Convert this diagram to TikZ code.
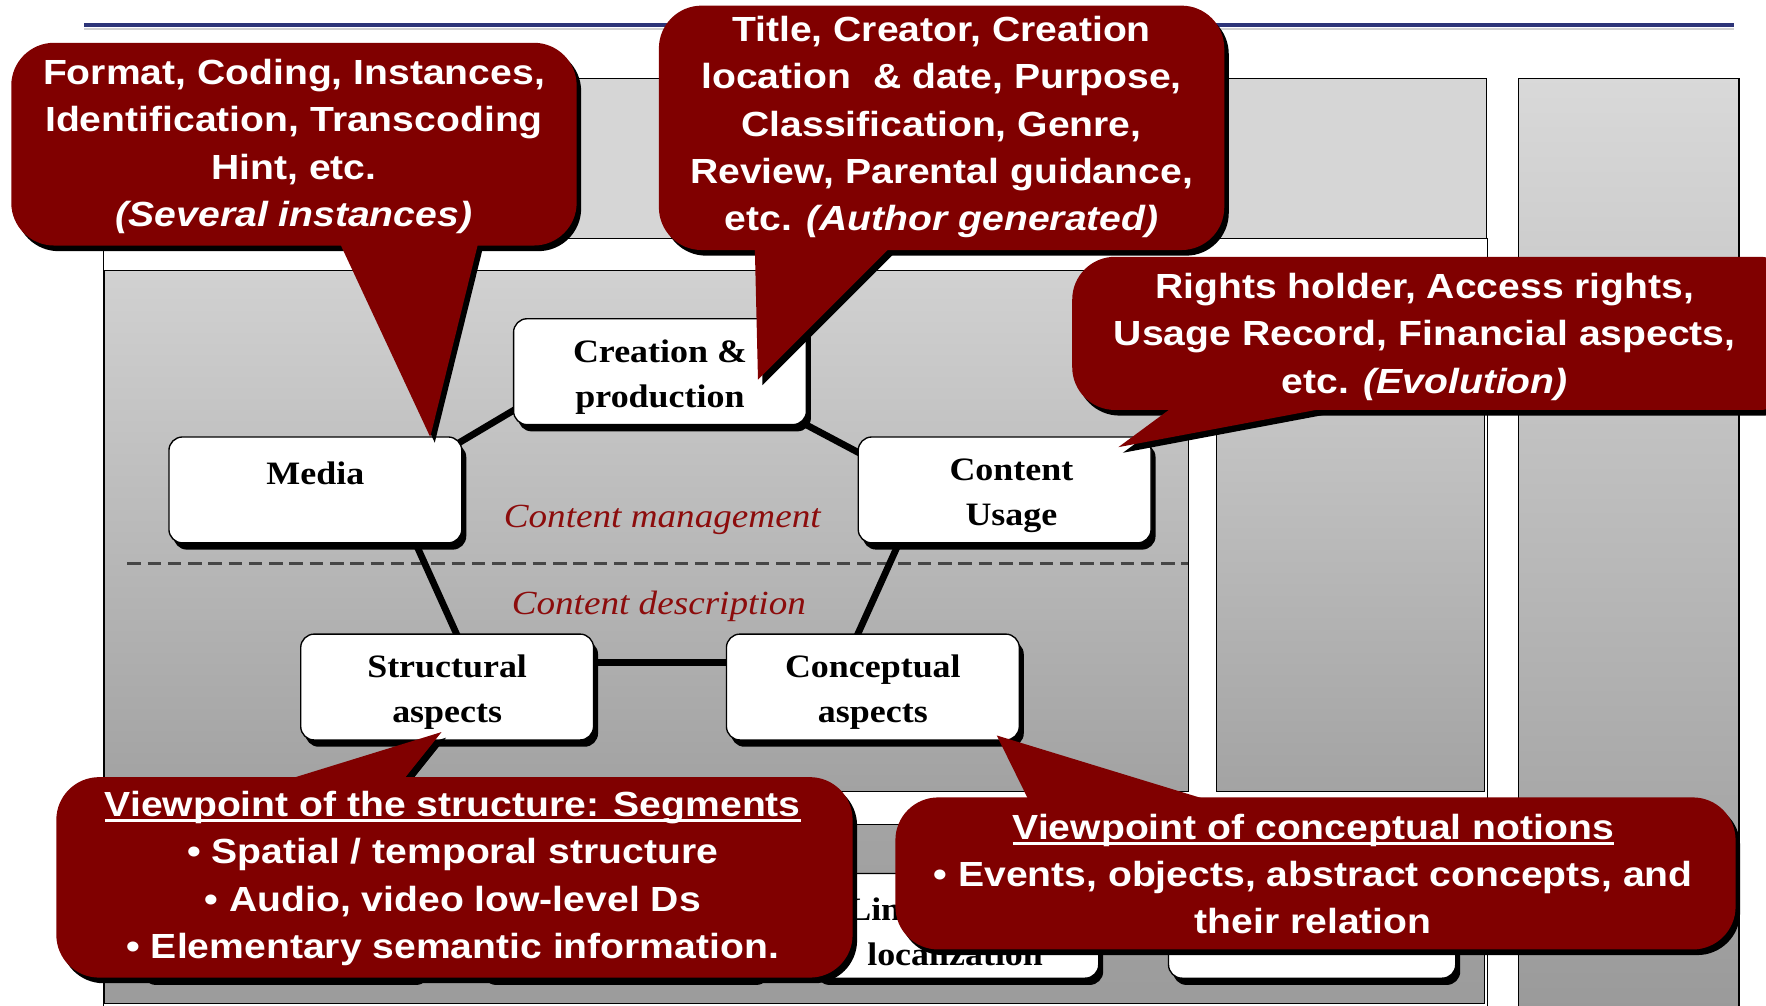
\documentclass[tikz,border=0pt]{standalone}
\usepackage{fontspec}
\usetikzlibrary{calc,shadows}
\newfontfamily\callfont[FakeStretch=1.12]{Liberation Sans}
\newfontfamily\serfont[FakeStretch=1.1]{Liberation Serif}
\definecolor{callred}{RGB}{128,0,0}
\definecolor{labred}{RGB}{140,12,12}
\definecolor{navyline}{RGB}{45,52,120}
\newcommand\myul[1]{\setbox0\hbox{#1}\rlap{\rule[-5pt]{\wd0}{2.5pt}}\box0}
\newcommand\topstrut{\rule{0pt}{30pt}}
\newcommand\callshape[5]{%
  \fill[rounded corners=38pt] (#1) rectangle (#2);
  \fill #3 -- #4 -- #5 -- cycle;}
\pgfdeclarelayer{back}\pgfdeclarelayer{links}\pgfdeclarelayer{front}
\pgfsetlayers{back,links,main,front}
\begin{document}
\begin{tikzpicture}[x=1pt,y=-1pt,
  panel/.style={draw=black,line width=1pt},
  box/.style={draw=black,line width=1.2pt,fill=white,rounded corners=12pt,
     minimum width=260pt,minimum height=94pt,inner sep=0pt,align=center,
     font=\serfont\bfseries\fontsize{29}{40}\selectfont,
     drop shadow={shadow xshift=4pt,shadow yshift=-6pt,fill=black,opacity=1}},
  lowbox/.style={box,minimum width=255pt,minimum height=93pt},
  conn/.style={line width=6pt,black},
  lab/.style={font=\serfont\itshape\fontsize{30}{36}\selectfont,text=labred},
  calltext/.style={text=white,align=center,inner sep=0pt,
     font=\callfont\bfseries\fontsize{31}{42}\selectfont}
]
\useasboundingbox (0,0) rectangle (1568,893);
\begin{pgfonlayer}{back}
  \fill[white] (0,0) rectangle (1568,893);
  % title rule
  \draw[gray!35,line width=2pt] (75,26) -- (1540,26);
  \draw[navyline,line width=3.5pt] (75,22) -- (1540,22);
  % panels
  \draw[panel,fill=gray!32] (90,70) rectangle (1320,212);
  \draw[panel,fill=white] (92,212) rectangle (1321,910);
  \draw[panel,top color=gray!36,bottom color=gray!73] (93,240) rectangle (1055,703);
  \draw[panel,top color=gray!36,bottom color=gray!72] (1080,240) rectangle (1318,703);
  \draw[panel,top color=gray!72,bottom color=gray!78] (93,732) rectangle (1318,891);
  \draw[panel,top color=gray!30,bottom color=gray!80] (1348,70) rectangle (1544,910);
  % separator
  \draw[gray!55!black,line width=2.5pt,dash pattern=on 12pt off 6pt] (113,500) -- (1055,500);
\end{pgfonlayer}

% main boxes
\node[box] (creation) at (586,330) {\topstrut Creation \&\\production};
\node[box] (media) at (280,435) {\topstrut Media\\\mbox{}};
\node[box] (usage) at (892,435) {\topstrut\hspace*{12pt}Content\\\hspace*{12pt}Usage};
\node[box] (struct) at (397,610) {\topstrut Structural\\aspects};
\node[box] (concept) at (775,610) {\topstrut Conceptual\\aspects};
% lower row boxes
\node[lowbox] (l1) at (250,822) {};
\node[lowbox] (l2) at (552,822) {};
\node[lowbox] (l3) at (848,822) {\topstrut Link \& media\\localization};
\node[lowbox] (l4) at (1165,822) {};

% labels
\node[lab] (cm) at (588,462) {Content management};
\node[lab] (cd) at (585,538) {Content description};

\begin{pgfonlayer}{links}
  \draw[conn] ($(media.north east)+(-17,14)$) -- ($(creation.south west)+(17,-23)$);
  \draw[conn] ($(creation.south east)+(-17,-9)$) -- ($(usage.north west)+(17,23)$);
  \draw[conn] ($(media.south east)+(-46,-10)$) -- ($(struct.north)+(14,13)$);
  \draw[conn] ($(usage.south west)+(41,-10)$) -- ($(concept.north)+(-19,13)$);
  \draw[conn] ($(struct.east)+(-10,-22)$) -- ($(concept.west)+(10,-22)$);
\end{pgfonlayer}

\begin{pgfonlayer}{front}
  % callout A
  \begin{scope}[shift={(4,5)},black]\callshape{10,38}{512,218}{(299,210)}{(426,210)}{(382,388)}\end{scope}
  \begin{scope}[callred]\callshape{10,38}{512,218}{(299,210)}{(426,210)}{(382,388)}\end{scope}
  % callout B
  \begin{scope}[shift={(4,5)},black]\callshape{585,5}{1087,222}{(670,212)}{(798,212)}{(673,337)}\end{scope}
  \begin{scope}[callred]\callshape{585,5}{1087,222}{(670,212)}{(798,212)}{(673,337)}\end{scope}
  % callout C
  \begin{scope}[shift={(4,5)},black]\callshape{952,228}{1600,364}{(1050,355)}{(1216,355)}{(993,397)}\end{scope}
  \begin{scope}[callred]\callshape{952,228}{1600,364}{(1050,355)}{(1216,355)}{(993,397)}\end{scope}
  % callout D
  \begin{scope}[shift={(4,5)},black]\callshape{50,690}{757,868}{(230,700)}{(352,700)}{(392,650)}\end{scope}
  \begin{scope}[callred]\callshape{50,690}{757,868}{(230,700)}{(352,700)}{(392,650)}\end{scope}
  % callout E
  \begin{scope}[shift={(4,5)},black]\callshape{795,708}{1541,843}{(918,720)}{(1104,720)}{(885,653)}\end{scope}
  \begin{scope}[callred]\callshape{795,708}{1541,843}{(918,720)}{(1104,720)}{(885,653)}\end{scope}

  \node[calltext] (ta) at (261,130) {Format, Coding, Instances,\\Identification, Transcoding\\Hint, etc.\\\textit{(Several instances)}};
  \node[calltext] (tb) at (836,113) {Title, Creator, Creation\\location\ \ \& date, Purpose,\\Classification, Genre,\\Review, Parental guidance,\\etc. \textit{(Author generated)}};
  \node[calltext] (tc) at (1265,299) {Rights holder, Access rights,\\Usage Record, Financial aspects,\\etc. \textit{(Evolution)}};
  \node[calltext] (td) at (402,780) {\myul{Viewpoint of the structure: Segments}\\• Spatial / temporal structure\\• Audio, video low-level Ds\\• Elementary semantic information.};
  \node[calltext] (te) at (1166,776) {\myul{Viewpoint of conceptual notions}\\• Events, objects, abstract concepts, and\\their relation};
\end{pgfonlayer}
\end{tikzpicture}
\end{document}
